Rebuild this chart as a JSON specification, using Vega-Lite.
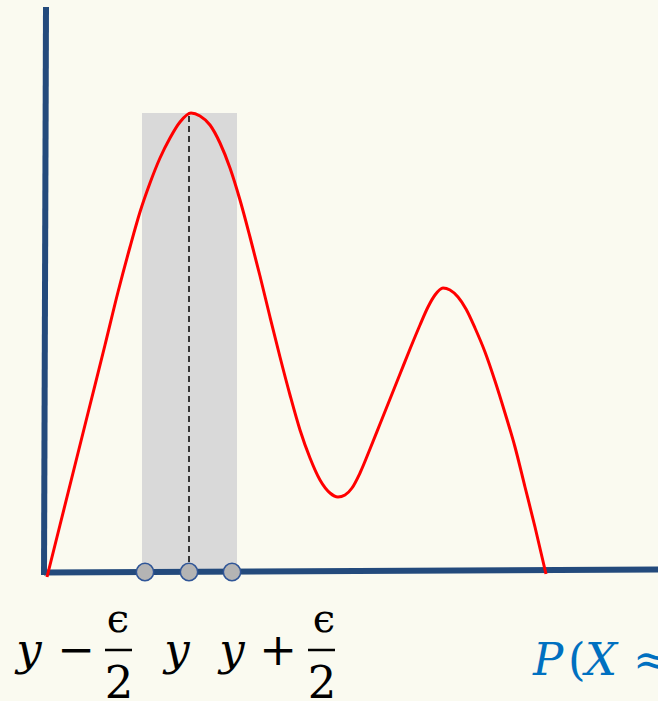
{
  "$schema": "https://vega.github.io/schema/vega-lite/v6.json",
  "width": 658,
  "height": 701,
  "autosize": "none",
  "padding": 0,
  "background": "#fafaf0",
  "config": {"view": {"stroke": null}},
  "encoding": {
    "x": {"field": "x", "type": "quantitative", "scale": {"domain": [-4.6, 61.2], "nice": false, "zero": false}, "axis": null},
    "y": {"field": "y", "type": "quantitative", "scale": {"domain": [-12.9, 57.2], "nice": false, "zero": false}, "axis": null}
  },
  "layer": [
    {
      "data": {"values": [{"x": 9.6, "x2": 19.1, "y": 0, "y2": 45.9}]},
      "mark": {"type": "rect", "color": "#d9d9d9"},
      "encoding": {"x2": {"field": "x2"}, "y2": {"field": "y2"}}
    },
    {
      "data": {"values": [
        {"x": 0, "y": 56.5, "x2": -0.2, "y2": -0.3},
        {"x": -0.2, "y": -0.05, "x2": 61.2, "y2": 0.25}
      ]},
      "mark": {"type": "rule", "color": "#234a7c", "strokeWidth": 6},
      "encoding": {"x2": {"field": "x2"}, "y2": {"field": "y2"}}
    },
    {
      "data": {"values": [{"x": 14.3, "y": 0, "y2": 45.9}]},
      "mark": {"type": "rule", "color": "#000000", "strokeWidth": 1.5, "strokeDash": [6, 4]},
      "encoding": {"y2": {"field": "y2"}}
    },
    {
      "data": {"values": [
        {"x": 0.1, "y": -0.5},
        {"x": 1.4, "y": 4.7},
        {"x": 2.9, "y": 10.7},
        {"x": 4.4, "y": 16.7},
        {"x": 5.9, "y": 22.7},
        {"x": 7.2, "y": 28.0},
        {"x": 8.4, "y": 32.5},
        {"x": 9.4, "y": 36.0},
        {"x": 10.4, "y": 38.9},
        {"x": 11.4, "y": 41.4},
        {"x": 12.4, "y": 43.4},
        {"x": 13.4, "y": 45.0},
        {"x": 14.5, "y": 45.9},
        {"x": 15.4, "y": 45.6},
        {"x": 16.4, "y": 44.7},
        {"x": 17.4, "y": 42.9},
        {"x": 18.4, "y": 40.4},
        {"x": 19.4, "y": 37.2},
        {"x": 20.4, "y": 33.5},
        {"x": 21.4, "y": 29.6},
        {"x": 22.4, "y": 25.5},
        {"x": 23.4, "y": 21.5},
        {"x": 24.4, "y": 17.7},
        {"x": 25.4, "y": 14.2},
        {"x": 26.4, "y": 11.4},
        {"x": 27.4, "y": 9.2},
        {"x": 28.4, "y": 7.9},
        {"x": 29.2, "y": 7.5},
        {"x": 29.9, "y": 7.7},
        {"x": 30.6, "y": 8.4},
        {"x": 31.4, "y": 9.9},
        {"x": 32.4, "y": 12.3},
        {"x": 33.4, "y": 14.8},
        {"x": 34.4, "y": 17.3},
        {"x": 35.4, "y": 19.8},
        {"x": 36.4, "y": 22.3},
        {"x": 37.4, "y": 24.7},
        {"x": 38.2, "y": 26.5},
        {"x": 38.9, "y": 27.7},
        {"x": 39.7, "y": 28.4},
        {"x": 40.4, "y": 28.2},
        {"x": 41.2, "y": 27.5},
        {"x": 42.0, "y": 26.3},
        {"x": 42.9, "y": 24.4},
        {"x": 43.9, "y": 22.0},
        {"x": 44.9, "y": 19.1},
        {"x": 45.9, "y": 15.9},
        {"x": 46.9, "y": 12.5},
        {"x": 47.9, "y": 8.5},
        {"x": 48.9, "y": 4.5},
        {"x": 50.0, "y": -0.2}
      ]},
      "mark": {"type": "line", "color": "#ff0000", "strokeWidth": 3, "interpolate": "monotone"}
    },
    {
      "data": {"values": [{"x": 9.9, "y": 0}, {"x": 14.3, "y": 0}, {"x": 18.6, "y": 0}]},
      "mark": {"type": "point", "shape": "circle", "filled": true, "size": 300, "fill": "#b4b4b4", "stroke": "#2f5597", "strokeWidth": 1.5, "opacity": 1}
    },
    {
      "data": {"values": [
        {"x": 5.9, "x2": 8.6, "y": -7.8},
        {"x": 26.2, "x2": 28.9, "y": -7.8}
      ]},
      "mark": {"type": "rule", "color": "#000000", "strokeWidth": 2.5},
      "encoding": {"x2": {"field": "x2"}}
    },
    {
      "data": {"values": [
        {"x": -1.7, "y": -9.3, "t": "y"},
        {"x": 13.1, "y": -9.3, "t": "y"},
        {"x": 18.6, "y": -9.3, "t": "y"}
      ]},
      "mark": {"type": "text", "font": "DejaVu Serif", "fontStyle": "italic", "fontSize": 45, "align": "center", "baseline": "alphabetic", "color": "#000000"},
      "encoding": {"text": {"field": "t"}}
    },
    {
      "data": {"values": [
        {"x": 3.0, "y": -9.3, "t": "−"},
        {"x": 23.2, "y": -9.3, "t": "+"},
        {"x": 7.3, "y": -12.6, "t": "2"},
        {"x": 27.6, "y": -12.6, "t": "2"}
      ]},
      "mark": {"type": "text", "font": "DejaVu Serif", "fontSize": 45, "align": "center", "baseline": "alphabetic", "color": "#000000"},
      "encoding": {"text": {"field": "t"}}
    },
    {
      "data": {"values": [
        {"x": 7.2, "y": -6.0, "t": "ϵ"},
        {"x": 27.8, "y": -6.0, "t": "ϵ"}
      ]},
      "mark": {"type": "text", "font": "DejaVu Serif", "fontSize": 40, "align": "center", "baseline": "alphabetic", "color": "#000000"},
      "encoding": {"text": {"field": "t"}}
    },
    {
      "data": {"values": [
        {"x": 48.7, "y": -10.3, "t": "P"},
        {"x": 53.9, "y": -10.3, "t": "X"}
      ]},
      "mark": {"type": "text", "font": "DejaVu Serif", "fontStyle": "italic", "fontSize": 45, "align": "left", "baseline": "alphabetic", "color": "#0070c0"},
      "encoding": {"text": {"field": "t"}}
    },
    {
      "data": {"values": [
        {"x": 52.2, "y": -10.3, "t": "("},
        {"x": 58.7, "y": -10.3, "t": "≈"}
      ]},
      "mark": {"type": "text", "font": "DejaVu Serif", "fontSize": 45, "align": "left", "baseline": "alphabetic", "color": "#0070c0"},
      "encoding": {"text": {"field": "t"}}
    }
  ]
}
